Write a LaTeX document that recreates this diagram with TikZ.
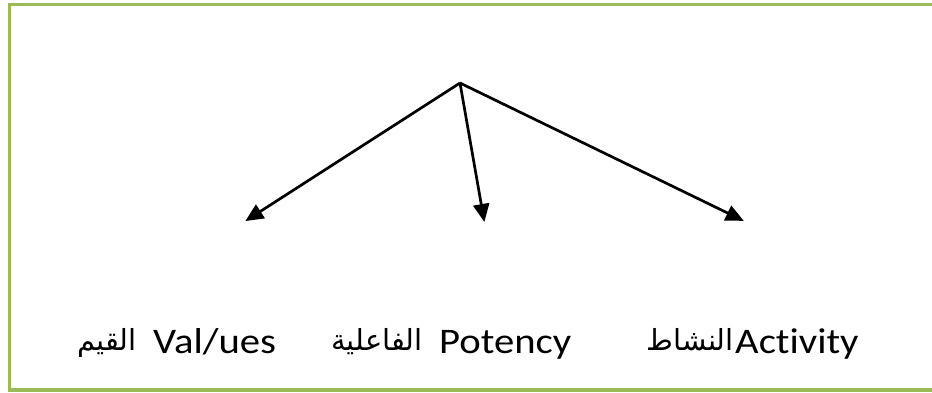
\documentclass[tikz,border=0pt]{standalone}
\usepackage{fontspec}
\setmainfont{Carlito}
\newfontfamily\latinlbl[FakeStretch=1.13,Ligatures=NoCommon]{Carlito}
\newfontfamily\arabicfont[Script=Arabic]{DejaVu Sans}
\TeXXeTstate=1
\usetikzlibrary{arrows.meta}
\definecolor{framegreen}{HTML}{9BBB59}
\tikzset{
  frame/.style={draw=framegreen, line width=3.4pt},
  branch/.style={draw=black, line width=2.7pt, -{Triangle[length=18pt,width=16pt]}, shorten >=-2pt},
  latlbl/.style={anchor=base west, inner sep=0pt, font=\latinlbl\fontsize{36}{42}\selectfont},
  arlbl/.style={anchor=base east, inner sep=0pt, font=\arabicfont\fontsize{29}{34}\selectfont},
}
\begin{document}
\begin{tikzpicture}[x=1pt,y=1pt]
\useasboundingbox (0,0) rectangle (932,392);
\begin{scope}
\clip (0,0) rectangle (932,392);
\draw[frame] (950,387.5) -- (9.3,387.5) -- (9.3,2) -- (950,2);
\end{scope}
\coordinate (top) at (460,309);
\coordinate (tl) at (247,172);
\coordinate (tm) at (484,172);
\coordinate (tr) at (742,172);
\draw[branch] (top) -- (tl);
\draw[branch] (top) -- (tm);
\draw[branch] (top) -- (tr);
\node[latlbl] (values) at (153,38.5) {Val/ues};
\node[arlbl] (qiyam) at (137,42) {\beginR القيم\endR};
\node[latlbl] (potency) at (439,38.5) {Potency};
\node[arlbl] (faeliya) at (423,42) {\beginR الفاعلية\endR};
\node[latlbl] (activity) at (735,38.5) {Activity};
\node[arlbl] (nashat) at (734,42) {\beginR النشاط\endR};
\end{tikzpicture}
\end{document}
